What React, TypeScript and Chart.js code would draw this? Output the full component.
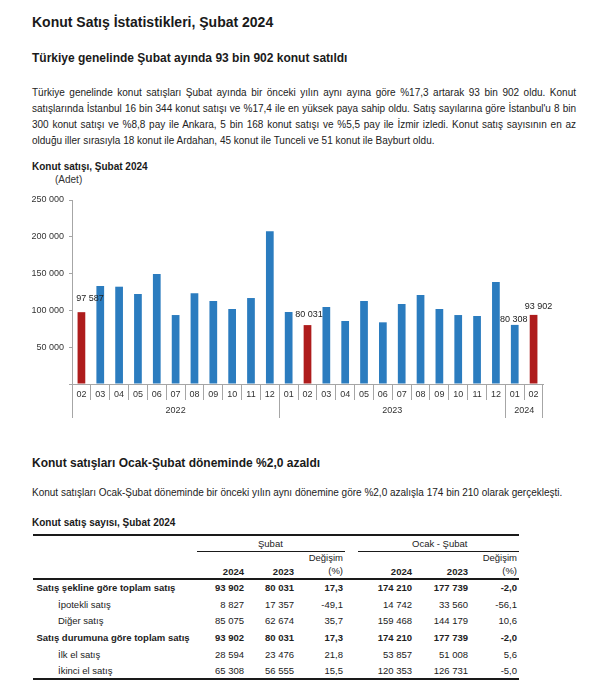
import React, { useEffect, useRef } from 'react';
import { Chart, registerables } from 'chart.js';

Chart.register(...registerables);

const FONT = "'Liberation Sans', Arial, Helvetica, sans-serif";
const BLUE = '#2b7cbf';
const RED = '#ae1c1c';
const AXIS = '#a6a6a6';
const TEXT = '#222';

// ---- chart data ----
const months = ['02', '03', '04', '05', '06', '07', '08', '09', '10', '11', '12',
  '01', '02', '03', '04', '05', '06', '07', '08', '09', '10', '11', '12',
  '01', '02'];
const monthYears = ['2022', '2022', '2022', '2022', '2022', '2022', '2022', '2022', '2022', '2022', '2022',
  '2023', '2023', '2023', '2023', '2023', '2023', '2023', '2023', '2023', '2023', '2023', '2023',
  '2024', '2024'];
const sales = [97587, 133150, 132200, 122300, 149500, 93700, 123200, 112800, 101900, 116800, 207400,
  97800, 80031, 104600, 85600, 112800, 83800, 108700, 120900, 101900, 93700, 92400, 138600,
  80308, 93902];
const labelledBars = [0, 12, 23, 24];
const yTicks = [0, 50000, 100000, 150000, 200000, 250000];

// ---- table data ----
const rowLabels = ['Satış şekline göre toplam satış', 'İpotekli satış', 'Diğer satış',
  'Satış durumuna göre toplam satış', 'İlk el satış', 'İkinci el satış'];
const rowIsTotal = [true, false, false, true, false, false];
const feb2024 = [93902, 8827, 85075, 93902, 28594, 65308];
const feb2023 = [80031, 17357, 62674, 80031, 23476, 56555];
const febChange = ['17,3', '-49,1', '35,7', '17,3', '21,8', '15,5'];
const janFeb2024 = [174210, 14742, 159468, 174210, 53857, 120353];
const janFeb2023 = [177739, 33560, 144179, 177739, 51008, 126731];
const janFebChange = ['-2,0', '-56,1', '10,6', '-2,0', '5,6', '-5,0'];

const paragraph1 = [
  'Türkiye genelinde konut satışları Şubat ayında bir önceki yılın aynı ayına göre %17,3 artarak 93 bin 902 oldu. Konut',
  "satışlarında İstanbul 16 bin 344 konut satışı ve %17,4 ile en yüksek paya sahip oldu. Satış sayılarına göre İstanbul'u 8 bin",
  '300 konut satışı ve %8,8 pay ile Ankara, 5 bin 168 konut satışı ve %5,5 pay ile İzmir izledi. Konut satış sayısının en az',
  'olduğu iller sırasıyla 18 konut ile Ardahan, 45 konut ile Tunceli ve 51 konut ile Bayburt oldu.',
];

const fmt = (n: number) => String(n).replace(/\B(?=(\d{3})+(?!\d))/g, ' ');

// label style offsets (dx, gap above bar top)
const labelDx = [8.5, 1.5, -1, 5];
const labelGap = [11, 8, 3, 6];

const align = (p: number) => Math.round(p - 0.5) + 0.5;

const yearRowPlugin = {
  id: 'yearRow',
  afterDraw(chart: any) {
    const { ctx, chartArea } = chart;
    const x = chart.scales.x;
    const half = (x.getPixelForValue(1) - x.getPixelForValue(0)) / 2;
    const bottom = chartArea.bottom;
    ctx.save();
    ctx.strokeStyle = AXIS;
    ctx.lineWidth = 1;
    ctx.fillStyle = '#333';
    ctx.font = `9px ${FONT}`;
    ctx.textAlign = 'center';
    ctx.textBaseline = 'middle';
    let start = 0;
    for (let i = 1; i <= monthYears.length; i++) {
      if (i === monthYears.length || monthYears[i] !== monthYears[start]) {
        const left = x.getPixelForValue(start) - half;
        const right = x.getPixelForValue(i - 1) + half;
        [left, right].forEach((px) => {
          ctx.beginPath();
          ctx.moveTo(align(px), bottom);
          ctx.lineTo(align(px), bottom + 34);
          ctx.stroke();
        });
        ctx.fillText(monthYears[start], (left + right) / 2, bottom + 27);
        start = i;
      }
    }
    ctx.restore();
  },
};

const dataLabelPlugin = {
  id: 'dataLabels',
  afterDatasetsDraw(chart: any) {
    const { ctx } = chart;
    const meta = chart.getDatasetMeta(0);
    ctx.save();
    ctx.fillStyle = '#222';
    ctx.font = `9px ${FONT}`;
    ctx.textAlign = 'center';
    ctx.textBaseline = 'alphabetic';
    labelledBars.forEach((idx, k) => {
      const el = meta.data[idx];
      ctx.fillText(fmt(sales[idx]), el.x + labelDx[k], el.y - labelGap[k]);
    });
    ctx.restore();
  },
};

function SalesChart() {
  const ref = useRef<HTMLCanvasElement>(null);
  useEffect(() => {
    if (!ref.current) return;
    const chart = new Chart(ref.current, {
      type: 'bar',
      data: {
        labels: months,
        datasets: [{
          data: sales,
          backgroundColor: months.map((m) => (m === '02' ? RED : BLUE)),
          barPercentage: 0.41,
          categoryPercentage: 1,
          borderWidth: 0,
        }],
      },
      options: {
        animation: false,
        responsive: false,
        maintainAspectRatio: false,
        layout: { padding: { top: 28, right: 56, bottom: 22, left: 0 } },
        plugins: { legend: { display: false }, tooltip: { enabled: false } },
        scales: {
          x: {
            grid: { offset: true, drawOnChartArea: false, drawTicks: true, tickLength: 16, color: AXIS },
            border: { color: AXIS },
            ticks: { font: { family: FONT, size: 9 }, color: '#333', padding: -11, maxRotation: 0, autoSkip: false },
            afterFit: (s: any) => { s.height = 16; },
          },
          y: {
            min: 0,
            max: 250000,
            afterBuildTicks: (s: any) => { s.ticks = yTicks.map((v) => ({ value: v })); },
            ticks: {
              font: { family: FONT, size: 9 },
              color: '#333',
              padding: 5,
              callback: (v: any) => (Number(v) === 0 ? '' : fmt(Number(v))),
            },
            grid: { drawOnChartArea: false, drawTicks: true, tickLength: 3, color: AXIS },
            border: { color: AXIS },
            afterFit: (s: any) => { s.width = 72; },
          },
        },
      },
      plugins: [yearRowPlugin, dataLabelPlugin],
    });
    return () => chart.destroy();
  }, []);
  return (
    <canvas ref={ref} width={599} height={250}
      style={{ position: 'absolute', left: 0, top: 172, width: 599, height: 250, display: 'block' }} />
  );
}

const abs = (left: number, top: number, extra: React.CSSProperties = {}): React.CSSProperties => ({
  position: 'absolute', left, top, whiteSpace: 'nowrap', ...extra,
});

// text cell with vertical center cy; right-aligned at rx or left at lx
function Cell({ text, cy, rx, lx, bold }: { text: string; cy: number; rx?: number; lx?: number; bold?: boolean }) {
  const style: React.CSSProperties = {
    position: 'absolute', top: cy - 6, height: 12, lineHeight: '12px', fontSize: 9.5,
    fontWeight: bold ? 'bold' : 'normal', whiteSpace: 'nowrap', color: TEXT,
  };
  if (rx !== undefined) { style.right = 599 - rx; style.textAlign = 'right'; }
  else { style.left = lx; }
  return <div style={style}>{text}</div>;
}

function Line({ x1, x2, y, h }: { x1: number; x2: number; y: number; h: number }) {
  return <div style={{ position: 'absolute', left: x1, top: y, width: x2 - x1, height: h, background: '#1a1a1a' }} />;
}

function SalesTable() {
  const rowY0 = 588.3;
  const pitch = 16.55;
  const cols = [244, 294, 343, 412, 468, 517];
  return (
    <>
      <Line x1={33} x2={519} y={534} h={2} />
      <Cell text="Şubat" cy={544} lx={258} />
      <Cell text="Ocak - Şubat" cy={544} lx={412} />
      <Line x1={197} x2={345} y={551} h={1} />
      <Line x1={358} x2={519} y={551} h={1} />
      <Cell text="Değişim" cy={558} rx={343} />
      <Cell text="Değişim" cy={558} rx={517} />
      <Cell text="(%)" cy={571} rx={343} />
      <Cell text="(%)" cy={571} rx={517} />
      <Cell text="2024" cy={572} rx={244} bold />
      <Cell text="2023" cy={572} rx={294} bold />
      <Cell text="2024" cy={572} rx={412} bold />
      <Cell text="2023" cy={572} rx={468} bold />
      <Line x1={33} x2={519} y={578} h={2} />
      {rowLabels.map((label, i) => {
        const cy = rowY0 + i * pitch;
        const b = rowIsTotal[i];
        const vals = [fmt(feb2024[i]), fmt(feb2023[i]), febChange[i], fmt(janFeb2024[i]), fmt(janFeb2023[i]), janFebChange[i]];
        return (
          <React.Fragment key={i}>
            <Cell text={label} cy={cy} lx={b ? 36.5 : 58} bold={b} />
            {vals.map((v, j) => <Cell key={j} text={v} cy={cy} rx={cols[j]} bold={b} />)}
          </React.Fragment>
        );
      })}
      <Line x1={33} x2={519} y={678} h={2} />
    </>
  );
}

export default function App() {
  return (
    <div style={{ position: 'absolute', left: 0, top: 0, width: 599, height: 696, fontFamily: FONT, color: TEXT, background: '#fff' }}>
      <div style={abs(32, 15.4, { fontSize: 14, lineHeight: '14px', fontWeight: 'bold', color: '#1a1a1a' })}>
        Konut Satış İstatistikleri, Şubat 2024
      </div>
      <div style={abs(32, 52.1, { fontSize: 12, lineHeight: '12px', fontWeight: 'bold', color: '#1a1a1a' })}>
        Türkiye genelinde Şubat ayında 93 bin 902 konut satıldı
      </div>
      <div style={{ position: 'absolute', left: 32, top: 85.2, width: 544, fontSize: 10 }}>
        {paragraph1.map((line, i) => (
          <div key={i} style={{
            height: 16, lineHeight: '16px', textAlign: 'justify',
            textAlignLast: i < paragraph1.length - 1 ? 'justify' : 'left', whiteSpace: 'normal',
          }}>{line}</div>
        ))}
      </div>
      <div style={abs(32, 161.5, { fontSize: 10, lineHeight: '10px', fontWeight: 'bold', color: '#1a1a1a' })}>
        Konut satışı, Şubat 2024
      </div>
      <div style={abs(55, 174, { fontSize: 10, lineHeight: '12px', color: '#333' })}>(Adet)</div>
      <SalesChart />
      <div style={abs(32, 456.5, { fontSize: 12, lineHeight: '12px', fontWeight: 'bold', color: '#1a1a1a' })}>
        Konut satışları Ocak-Şubat döneminde %2,0 azaldı
      </div>
      <div style={abs(32, 488.2, { fontSize: 10, lineHeight: '10px' })}>
        Konut satışları Ocak-Şubat döneminde bir önceki yılın aynı dönemine göre %2,0 azalışla 174 bin 210 olarak gerçekleşti.
      </div>
      <div style={abs(32, 517.5, { fontSize: 10, lineHeight: '10px', fontWeight: 'bold', color: '#1a1a1a' })}>
        Konut satış sayısı, Şubat 2024
      </div>
      <SalesTable />
    </div>
  );
}
